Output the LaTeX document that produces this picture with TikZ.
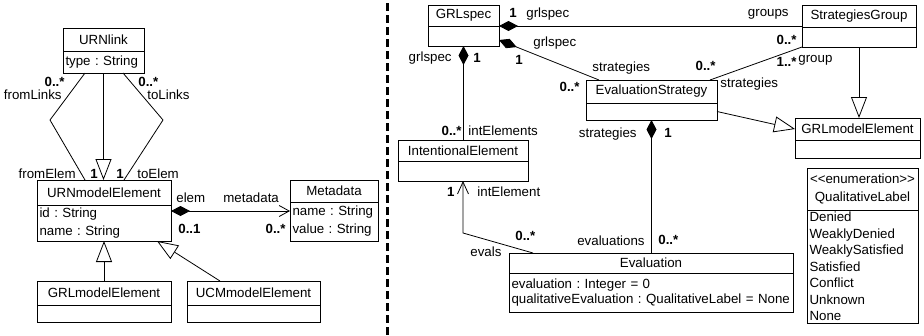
\documentclass[tikz,border=0pt]{standalone}
\usepackage{fontspec}
\setmainfont{Liberation Sans}
\usetikzlibrary{arrows.meta,positioning}

\begin{document}
\begin{tikzpicture}[x=1pt,y=-1pt,line width=0.8pt,font=\fontsize{13.3}{16}\selectfont\frenchspacing]
\tikzset{ctitle/.style = {draw, inner sep=0pt, outer sep=0pt, align=center}}
\tikzset{cattr/.style = {draw, inner xsep=2.5pt, inner ysep=0pt, outer sep=0pt, align=left}}
\tikzset{lbl/.style = {inner sep=0pt}}
\tikzset{mult/.style = {inner sep=0pt, font=\fontsize{13.3}{16}\selectfont\bfseries}}
\tikzset{gen/.style = {-{Triangle[open, length=21pt, width=16pt]}}}
\tikzset{comp/.style = {{Diamond[length=19pt, width=10pt]}-}}
\tikzset{compnav/.style = {{Diamond[length=19pt, width=10pt]}-{Straight Barb[length=10pt, width=11pt]}}}
\tikzset{nav/.style = {-{Straight Barb[length=12pt, width=11pt]}}}
\tikzset{sep/.style = {line width=3pt, dash pattern=on 8pt off 4pt}}
\useasboundingbox (0,0) rectangle (924,335);

% URN part
\node[ctitle, minimum width=81, minimum height=23, anchor=north west] (link) at (63,28) {URNlink};
\node[cattr, text width=76, minimum height=22, below=0pt of link] (link-a) {type : String};
\node[ctitle, minimum width=134, minimum height=25, anchor=north west] (urn) at (37,180) {URNmodelElement};
\node[cattr, text width=129, minimum height=36, below=0pt of urn] (urn-a) {id : String\\[2pt]name : String};
\node[ctitle, minimum width=88, minimum height=22, anchor=north west] (meta) at (290,180) {Metadata};
\node[cattr, text width=83, minimum height=39, below=0pt of meta] (meta-a) {name : String\\[2pt]value : String};
\node[ctitle, minimum width=134, minimum height=24, anchor=north west] (grlL) at (37,281) {GRLmodelElement};
\node[cattr, text width=129, minimum height=17, below=0pt of grlL] (grlL-a) {};
\node[ctitle, minimum width=133, minimum height=24, anchor=north west] (ucm) at (187,281) {UCMmodelElement};
\node[cattr, text width=128, minimum height=17, below=0pt of ucm] (ucm-a) {};

\coordinate (fl) at (50,120);
\coordinate (tl) at (163,120);
\draw ([xshift=22pt]link-a.south west) -- (fl) -- ([xshift=48pt]urn.north west);
\draw ([xshift=60pt]link-a.south west) -- (tl) -- ([xshift=87pt]urn.north west);
\draw[gen] (link-a.south) -- (link-a.south |- urn.north);
\draw[gen] (grlL.north) -- (urn-a.south);
\draw[gen] ([xshift=33pt]ucm.north west) -- ([xshift=120pt]urn-a.south west);
\draw[compnav] ([yshift=-6pt]urn-a.north east) -- ([yshift=-6pt]urn-a.north east -| meta-a.west);

\node[mult, anchor=base east] (m1) at (65,86) {0..*};
\node[lbl, anchor=base east] (r1) at (62,99) {fromLinks};
\node[mult, anchor=base west] (m2) at (138,86) {0..*};
\node[lbl, anchor=base west] (r2) at (147,99) {toLinks};
\node[lbl, anchor=base east] (r3) at (76,178) {fromElem};
\node[mult, anchor=base west] (m3) at (90,178) {1};
\node[mult, anchor=base west] (m4) at (116,178) {1};
\node[lbl, anchor=base west] (r4) at (137,178) {toElem};
\node[lbl, anchor=base west] (r5) at (176,202) {elem};
\node[mult, anchor=base west] (m5) at (178,233) {0..1};
\node[lbl, anchor=base west] (r6) at (223,202) {metadata};
\node[mult, anchor=base east] (m6) at (286,233) {0..*};

\draw[sep] (387,3) -- (387,335);

% GRL part
\node[ctitle, minimum width=71, minimum height=21, anchor=north west] (spec) at (428,5) {GRLspec};
\node[cattr, text width=66, minimum height=20, below=0pt of spec] (spec-a) {};
\node[ctitle, minimum width=114, minimum height=22, anchor=north west] (sg) at (802,5) {StrategiesGroup};
\node[cattr, text width=109, minimum height=20, below=0pt of sg] (sg-a) {};
\node[ctitle, minimum width=131, minimum height=23, anchor=north west] (es) at (586,80) {EvaluationStrategy};
\node[cattr, text width=126, minimum height=17, below=0pt of es] (es-a) {};
\node[ctitle, minimum width=125, minimum height=22, anchor=north west] (grlR) at (795,118) {GRLmodelElement};
\node[cattr, text width=120, minimum height=18, below=0pt of grlR] (grlR-a) {};
\node[ctitle, minimum width=130, minimum height=21, anchor=north west] (ie) at (398,140) {IntentionalElement};
\node[cattr, text width=125, minimum height=20, below=0pt of ie] (ie-a) {};
\node[ctitle, minimum width=284, minimum height=20, anchor=north west] (eval) at (509,253) {Evaluation};
\node[cattr, text width=279, minimum height=39, below=0pt of eval] (eval-a) {evaluation~:~Integer~=~0\\[-1pt]qualitativeEvaluation~:~QualitativeLabel~=~None};
\node[ctitle, minimum width=111, minimum height=42, anchor=north west] (ql) at (807,168) {<{}<enumeration>{}>\\[2pt]QualitativeLabel};
\node[cattr, text width=106, minimum height=113, below=0pt of ql] (ql-a) {Denied\\[0.5pt]WeaklyDenied\\[0.5pt]WeaklySatisfied\\[0.5pt]Satisfied\\[0.5pt]Conflict\\[0.5pt]Unknown\\[0.5pt]None};

\coordinate (ev) at (463,233);
\draw[comp] (spec.south east) -- (spec.south east -| sg.west);
\draw[comp] ([yshift=-4pt]spec-a.east) -- ([xshift=13pt]es.north west);
\draw (sg-a.south west) -- ([xshift=-7pt]es.north east);
\draw[gen] (sg-a.south) -- (sg-a.south |- grlR.north);
\draw[gen] (es-a.east) -- (grlR.west);
\draw[comp] (es-a.south) -- (es-a.south |- eval.north);
\draw[comp] (spec-a.south) -- (spec-a.south |- ie.north);
\draw[nav] ([xshift=24pt]eval.north west) -- (ev) -- (ie-a.south);

\node[mult, anchor=base west] (m7) at (509,17) {1};
\node[lbl, anchor=base west] (r7) at (526,17) {grlspec};
\node[lbl, anchor=base east] (r8) at (789,16) {groups};
\node[mult, anchor=base east] (m8) at (797,44) {0..*};
\node[lbl, anchor=base west] (r9) at (533,46) {grlspec};
\node[mult, anchor=base west] (m9) at (515,64) {1};
\node[lbl, anchor=base east] (r10) at (452,61) {grlspec};
\node[mult, anchor=base west] (m10) at (473,62) {1};
\node[lbl, anchor=base west] (r11) at (592,71) {strategies};
\node[mult, anchor=base east] (m11) at (580,91) {0..*};
\node[mult, anchor=base east] (m12) at (716,70) {0..*};
\node[mult, anchor=base east] (m13) at (797,66) {1..*};
\node[lbl, anchor=base west] (r12) at (798,62) {group};
\node[lbl, anchor=base west] (r13) at (720,87) {strategies};
\node[lbl, anchor=base east] (r14) at (637,137) {strategies};
\node[mult, anchor=base west] (m14) at (664,137) {1};
\node[mult, anchor=base east] (m15) at (462,135) {0..*};
\node[lbl, anchor=base west] (r15) at (468,135) {intElements};
\node[mult, anchor=base east] (m16) at (455,196) {1};
\node[lbl, anchor=base west] (r16) at (477,196) {intElement};
\node[mult, anchor=base west] (m17) at (515,240) {0..*};
\node[lbl, anchor=base west] (r17) at (470,256) {evals};
\node[lbl, anchor=base east] (r18) at (645,245) {evaluations};
\node[mult, anchor=base west] (m18) at (658,244) {0..*};
\end{tikzpicture}
\end{document}
